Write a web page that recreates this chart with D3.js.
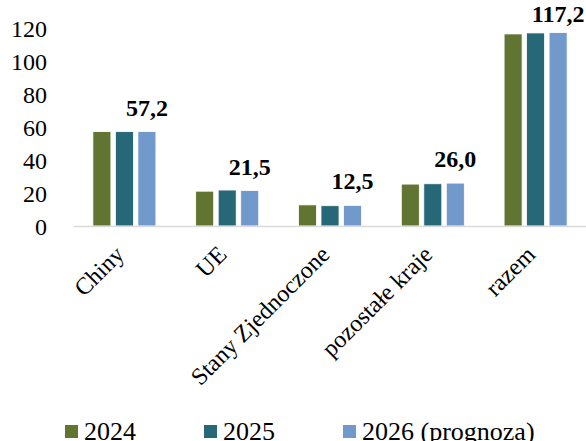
<!DOCTYPE html>
<html>
<head>
<meta charset="utf-8">
<script src="https://cdn.jsdelivr.net/npm/d3@7"></script>
<style>
    body { margin: 0; background: white; }
</style>
</head>
<body>
<div id="chart"></div>
<script>
const width = 586;
const height = 441;
const FONT = "'Liberation Serif', 'Times New Roman', Times, serif";

// data
var categories = ["Chiny", "UE", "Stany Zjednoczone", "pozostałe kraje", "razem"];
var seriesNames = ["2024", "2025", "2026 (prognoza)"];
var values2024 = [57.2, 21.1, 12.8, 25.4, 116.4];
var values2025 = [57.2, 21.8, 12.3, 25.6, 117.0];
var values2026 = [57.2, 21.5, 12.5, 26.0, 117.2];
var labelValues = ["57,2", "21,5", "12,5", "26,0", "117,2"];
var yTicks = [0, 20, 40, 60, 80, 100, 120];
var colors = ["#617431", "#266877", "#7299cc"];

var seriesValues = [values2024, values2025, values2026];

// one row per category
var data = categories.map(function (c, i) {
    return {
        category: c,
        values: seriesNames.map(function (s, j) {
            return { series: s, value: seriesValues[j][i] };
        })
    };
});

var svg = d3.select("#chart")
    .append("svg")
    .attr("width", width)
    .attr("height", height)
    .style("font-family", FONT);

//Defining scales
var x0 = d3.scaleBand()
    .domain(categories)
    .range([73, 587])
    .paddingInner(0.387)
    .paddingOuter(0.1935);

var x1 = d3.scaleBand()
    .domain(seriesNames)
    .range([0, x0.bandwidth()])
    .paddingInner(0.2);

var yScale = d3.scaleLinear()
    .domain([0, 120])
    .range([226, 28]);

var colorScale = d3.scaleOrdinal()
    .domain(seriesNames)
    .range(colors);

// y axis: labels only, no line or ticks
var yAxis = svg.append("g")
    .attr("transform", "translate(47, 0)")
    .call(d3.axisLeft(yScale).tickValues(yTicks).tickSize(0).tickPadding(0).tickFormat(d3.format("d")));
yAxis.select(".domain").remove();
yAxis.selectAll("text")
    .style("font-family", FONT)
    .style("font-size", "24px")
    .attr("fill", "black")
    .attr("dy", "0.35em");

// bars
var groups = svg.selectAll(".group")
    .data(data)
    .join("g")
        .attr("class", "group")
        .attr("transform", d => `translate(${x0(d.category)}, 0)`);

groups.selectAll("rect")
    .data(d => d.values)
    .join("rect")
        .attr("x", d => x1(d.series))
        .attr("y", d => yScale(d.value))
        .attr("width", x1.bandwidth())
        .attr("height", d => yScale(0) - yScale(d.value))
        .attr("fill", d => colorScale(d.series))
        .attr("stroke", "#ffffff")
        .attr("stroke-width", 0.8);

// x axis line
var xAxis = svg.append("g")
    .attr("transform", `translate(0, ${yScale(0)})`)
    .call(d3.axisBottom(x0).tickSize(0).tickFormat(""));
xAxis.select(".domain")
    .attr("stroke", "#d9d9d9")
    .attr("stroke-width", 1.5);

// rotated category labels
svg.selectAll(".cat-label")
    .data(categories)
    .join("text")
        .attr("class", "cat-label")
        .attr("text-anchor", "end")
        .style("font-family", FONT)
        .style("font-size", "24px")
        .attr("transform", d => `translate(${x0(d) + x0.bandwidth() / 2 + 1}, 256) rotate(-45)`)
        .text(d => d);

// data labels above the last series
var lastSeries = seriesNames[seriesNames.length - 1];
svg.selectAll(".value-label")
    .data(categories)
    .join("text")
        .attr("class", "value-label")
        .attr("text-anchor", "middle")
        .style("font-family", FONT)
        .style("font-size", "24px")
        .style("font-weight", "bold")
        .attr("x", d => x0(d) + x1(lastSeries) + x1.bandwidth() / 2)
        .attr("y", (d, i) => Math.max(yScale(values2026[i]) - 16, 22))
        .text((d, i) => labelValues[i]);

// legend
var legend = svg.selectAll(".legend")
    .data(seriesNames)
    .join("g")
        .attr("class", "legend")
        .attr("transform", (d, i) => `translate(${65 + i * 139}, 425)`);

legend.append("rect")
    .attr("width", 13)
    .attr("height", 13)
    .attr("fill", d => colorScale(d));

legend.append("text")
    .attr("x", 19)
    .attr("y", 15)
    .style("font-family", FONT)
    .style("font-size", "26px")
    .text(d => d);
</script>
</body>
</html>
